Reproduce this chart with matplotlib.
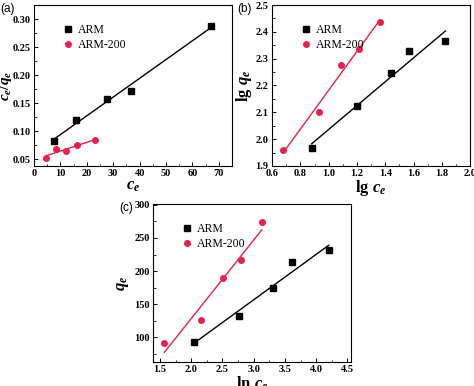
import numpy as np
import matplotlib
matplotlib.use('Agg')
import matplotlib.pyplot as plt
from matplotlib.ticker import MultipleLocator, AutoMinorLocator

plt.rcParams['font.family'] = 'Liberation Serif'
plt.rcParams['font.weight'] = 'bold'
plt.rcParams['mathtext.fontset'] = 'custom'
plt.rcParams['mathtext.it'] = 'Liberation Serif:italic:bold'
plt.rcParams['mathtext.rm'] = 'Liberation Serif:bold'

red = '#e8204a'

# (a) Langmuir: c_e vs c_e/q_e
a_arm_x = [7.5, 15.8, 27.6, 36.7, 67.0]
a_arm_y = [0.083, 0.120, 0.157, 0.172, 0.288]
a_200_x = [4.7, 8.5, 12.3, 16.4, 23.0]
a_200_y = [0.053, 0.068, 0.065, 0.076, 0.084]

# (b) Freundlich: lg c_e vs lg q_e
b_arm_x = [0.88, 1.20, 1.44, 1.565, 1.825]
b_arm_y = [1.968, 2.122, 2.245, 2.330, 2.366]
b_200_x = [0.68, 0.93, 1.09, 1.215, 1.36]
b_200_y = [1.958, 2.102, 2.278, 2.335, 2.438]

# (c) Temkin: ln c_e vs q_e
c_arm_x = [2.04, 2.76, 3.31, 3.61, 4.20]
c_arm_y = [93, 133, 175, 214, 232]
c_200_x = [1.57, 2.15, 2.51, 2.80, 3.13]
c_200_y = [91, 126, 190, 217, 274]

fig = plt.figure(figsize=(4.74, 3.86), dpi=100)
ax_a = fig.add_axes([0.0717, 0.570, 0.418, 0.417])
ax_b = fig.add_axes([0.574, 0.570, 0.418, 0.417])
ax_c = fig.add_axes([0.323, 0.0622, 0.418, 0.409])


def panel(ax, x1, y1, x2, y2):
    for x, y, c in [(x1, y1, 'black'), (x2, y2, red)]:
        k, b = np.polyfit(x, y, 1)
        xx = np.array([min(x), max(x)])
        ax.plot(xx, k*xx + b, color=c, lw=1.0)
    ax.plot(x1, y1, 's', color='black', ms=4, label='ARM')
    ax.plot(x2, y2, 'o', color=red, ms=4, label='ARM-200')
    ax.tick_params(direction='in', labelsize=7.5, length=3, width=0.7, pad=2.5)
    ax.tick_params(which='minor', direction='in', length=1.8, width=0.6)
    ax.xaxis.set_minor_locator(AutoMinorLocator(2))
    ax.yaxis.set_minor_locator(AutoMinorLocator(2))
    for s in ax.spines.values():
        s.set_linewidth(0.8)
    ax.legend(loc='upper left', bbox_to_anchor=(0.08, 0.95), frameon=False,
              handletextpad=0.3, handlelength=1.2, labelspacing=0.3,
              prop={'weight': 'normal', 'size': 8.5})


panel(ax_a, a_arm_x, a_arm_y, a_200_x, a_200_y)
ax_a.set_xlim(0, 75)
ax_a.set_ylim(0.038, 0.325)
ax_a.xaxis.set_major_locator(MultipleLocator(10))
ax_a.yaxis.set_major_locator(MultipleLocator(0.05))
ax_a.yaxis.set_major_formatter(plt.FormatStrFormatter('%.2f'))
ax_a.set_xlabel(r'$c_e$', fontsize=12, labelpad=0)
ax_a.set_ylabel(r'$c_e/q_e$', fontsize=11, labelpad=-1)

panel(ax_b, b_arm_x, b_arm_y, b_200_x, b_200_y)
ax_b.set_xlim(0.6, 2.0)
ax_b.set_ylim(1.9, 2.5)
ax_b.xaxis.set_major_locator(MultipleLocator(0.2))
ax_b.yaxis.set_major_locator(MultipleLocator(0.1))
ax_b.xaxis.set_major_formatter(plt.FormatStrFormatter('%.1f'))
ax_b.yaxis.set_major_formatter(plt.FormatStrFormatter('%.1f'))
ax_b.set_xlabel(r'$\mathrm{lg}\ c_e$', fontsize=12, labelpad=0)
ax_b.set_ylabel(r'$\mathrm{lg}\ q_e$', fontsize=12, labelpad=1)

panel(ax_c, c_arm_x, c_arm_y, c_200_x, c_200_y)
ax_c.set_xlim(1.39, 4.56)
ax_c.set_ylim(63, 301)
ax_c.xaxis.set_major_locator(MultipleLocator(0.5))
ax_c.yaxis.set_major_locator(MultipleLocator(50))
ax_c.xaxis.set_major_formatter(plt.FormatStrFormatter('%.1f'))
ax_c.set_xlabel(r'$\mathrm{ln}\ c_e$', fontsize=12, labelpad=0)
ax_c.set_ylabel(r'$q_e$', fontsize=12, labelpad=2)

for lab, x, y in [('(a)', 0/474, 1-9/386), ('(b)', 237/474, 1-9/386), ('(c)', 119/474, 1-208/386)]:
    fig.text(x, y, lab, fontsize=8.5, family='Liberation Sans', weight='normal', va='center')

fig.savefig('out.png', dpi=100)
